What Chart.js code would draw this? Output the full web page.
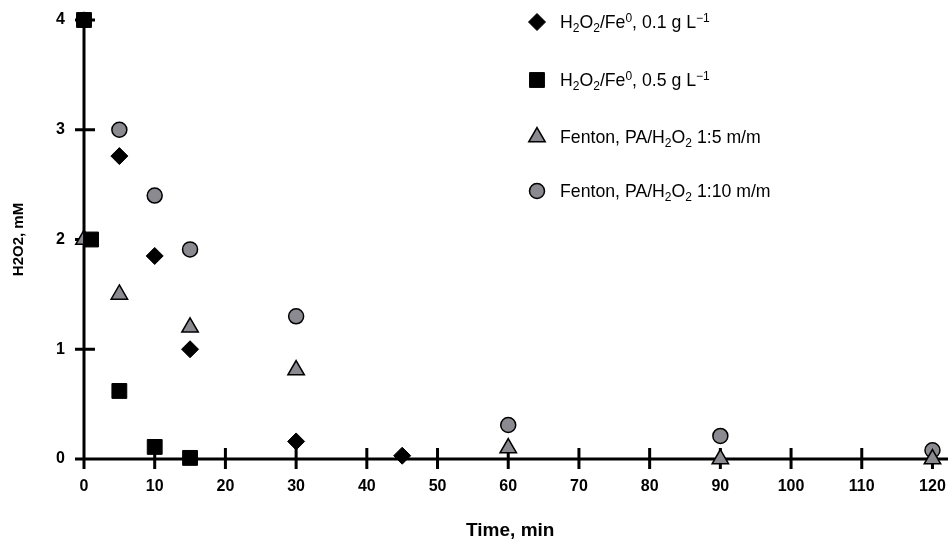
<!DOCTYPE html>
<html lang="en">
<head>
    <meta charset="UTF-8">
    <title>H2O2 decay</title>
    <script src="https://cdn.jsdelivr.net/npm/chart.js@4.4.1/dist/chart.umd.min.js"></script>
    <style>
        html, body { margin: 0; padding: 0; background: #fff; }
        #wrap { width: 948px; height: 542px; }
    </style>
</head>
<body>
<div id="wrap"><canvas id="myChart"></canvas></div>
<script>
    // tick values on both axes
    const xTicks = [0, 10, 20, 30, 40, 50, 60, 70, 80, 90, 100, 110, 120];
    const yTicks = [0, 1, 2, 3, 4];

    // series 1: H2O2/Fe0, 0.1 g/L
    const timeFe01  = [5, 10, 15, 30, 45];
    const valueFe01 = [2.76, 1.85, 1.0, 0.16, 0.03];

    // series 2: H2O2/Fe0, 0.5 g/L
    const timeFe05  = [0, 1, 5, 10, 15];
    const valueFe05 = [4.0, 2.0, 0.62, 0.11, 0.01];

    // series 3: Fenton, PA/H2O2 1:5
    const timeF5  = [0, 5, 15, 30, 60, 90, 120];
    const valueF5 = [2.0, 1.5, 1.2, 0.81, 0.1, 0.0, 0.0];

    // series 4: Fenton, PA/H2O2 1:10
    const timeF10  = [0, 5, 10, 15, 30, 60, 90, 120];
    const valueF10 = [4.0, 3.0, 2.4, 1.91, 1.3, 0.31, 0.21, 0.08];

    // legend labels, split in pieces: [text, 'n' normal | 'sub' | 'sup']
    const legendLabels = [
        [['H', 'n'], ['2', 'sub'], ['O', 'n'], ['2', 'sub'], ['/Fe', 'n'], ['0', 'sup'], [', 0.1 g L', 'n'], ['\u22121', 'sup']],
        [['H', 'n'], ['2', 'sub'], ['O', 'n'], ['2', 'sub'], ['/Fe', 'n'], ['0', 'sup'], [', 0.5 g L', 'n'], ['\u22121', 'sup']],
        [['Fenton, PA/H', 'n'], ['2', 'sub'], ['O', 'n'], ['2', 'sub'], [' 1:5 m/m', 'n']],
        [['Fenton, PA/H', 'n'], ['2', 'sub'], ['O', 'n'], ['2', 'sub'], [' 1:10 m/m', 'n']]
    ];

    const grey = 'rgb(138,138,144)';
    const boldFont = 'Liberation Sans, Arial, sans-serif';

    function toPoints( xs, ys ) {
        return xs.map( (x, i) => ({ x: x, y: ys[i] }) );
    }

    // axis lines and crossing tick marks
    const axesPlugin = {
        id: 'axesPlugin',
        beforeDatasetsDraw(chart) {
            const ctx = chart.ctx;
            const xs = chart.scales.x, ys = chart.scales.y;
            const x0 = xs.getPixelForValue(0);
            const y0 = ys.getPixelForValue(0);
            ctx.save();
            ctx.strokeStyle = '#000';
            ctx.lineWidth = 3;
            ctx.beginPath();
            ctx.moveTo(x0, ys.getPixelForValue(4) - 1);
            ctx.lineTo(x0, y0);
            ctx.moveTo(x0, y0);
            ctx.lineTo(chart.width, y0);
            xTicks.forEach( t => {
                const px = xs.getPixelForValue(t);
                ctx.moveTo(px, y0 - 11);
                ctx.lineTo(px, y0 + 10);
            });
            yTicks.forEach( t => {
                const py = ys.getPixelForValue(t);
                ctx.moveTo(x0 - 9, py);
                ctx.lineTo(x0 + 11, py);
            });
            ctx.stroke();
            ctx.restore();
        }
    };

    // legend with sub/superscripts
    const legendPlugin = {
        id: 'legendPlugin',
        afterDraw(chart) {
            const ctx = chart.ctx;
            const rows = [22, 80, 137, 191];
            ctx.save();
            chart.data.datasets.forEach( (ds, i) => {
                const y = rows[i];
                ctx.fillStyle = ds.pointBackgroundColor;
                ctx.strokeStyle = ds.pointBorderColor;
                ctx.lineWidth = ds.pointBorderWidth;
                Chart.helpers.drawPoint(ctx, {
                    pointStyle: ds.pointStyle,
                    radius: ds.pointRadius,
                    borderWidth: ds.pointBorderWidth
                }, 537, y);
                let x = 560;
                ctx.fillStyle = '#000';
                ctx.textBaseline = 'alphabetic';
                legendLabels[i].forEach( ([txt, kind]) => {
                    let size = 17.7, dy = 6;
                    if ( kind === 'sub' ) { size = 12; dy = 10; }
                    if ( kind === 'sup' ) { size = 12; dy = 0; }
                    ctx.font = size + 'px ' + boldFont;
                    ctx.fillText(txt, x, y + dy);
                    x += ctx.measureText(txt).width;
                });
            });
            ctx.restore();
        }
    };

    const ctx = document.getElementById('myChart').getContext('2d');
    const myChart = new Chart(ctx, {
        type: 'scatter',
        data: {
            datasets: [
                {
                    label: 'H2O2/Fe0, 0.1 g L-1',
                    data: toPoints(timeFe01, valueFe01),
                    pointStyle: 'rectRot',
                    pointRadius: 8.5,
                    pointBackgroundColor: '#000',
                    pointBorderColor: '#000',
                    pointBorderWidth: 1,
                    clip: false
                },
                {
                    label: 'H2O2/Fe0, 0.5 g L-1',
                    data: toPoints(timeFe05, valueFe05),
                    pointStyle: 'rect',
                    pointRadius: 10.5,
                    pointBackgroundColor: '#000',
                    pointBorderColor: '#000',
                    pointBorderWidth: 1,
                    clip: false
                },
                {
                    label: 'Fenton, PA/H2O2 1:5 m/m',
                    data: toPoints(timeF5, valueF5),
                    pointStyle: 'triangle',
                    pointRadius: 9.5,
                    pointBackgroundColor: grey,
                    pointBorderColor: '#000',
                    pointBorderWidth: 1.5,
                    clip: false
                },
                {
                    label: 'Fenton, PA/H2O2 1:10 m/m',
                    data: toPoints(timeF10, valueF10),
                    pointStyle: 'circle',
                    pointRadius: 7.5,
                    pointBackgroundColor: grey,
                    pointBorderColor: '#000',
                    pointBorderWidth: 1.5,
                    clip: false
                }
            ]
        },
        options: {
            responsive: true,
            maintainAspectRatio: false,
            animation: false,
            layout: { padding: { top: 20, right: 0, left: 0, bottom: 0 } },
            plugins: {
                legend: { display: false },
                tooltip: { enabled: false }
            },
            scales: {
                x: {
                    type: 'linear',
                    min: 0,
                    max: 120.57,
                    afterBuildTicks: s => { s.ticks = xTicks.map( v => ({ value: v }) ); },
                    afterFit: s => { s.height = 83; s.paddingLeft = 0; s.paddingRight = 0; },
                    grid: { display: false, drawTicks: false },
                    border: { display: false },
                    ticks: {
                        color: '#000',
                        padding: 18,
                        maxRotation: 0,
                        autoSkip: false,
                        font: { family: boldFont, size: 16, weight: 'bold' }
                    },
                    title: {
                        display: true,
                        text: 'Time, min',
                        color: '#000',
                        padding: { top: 0, bottom: 0 },
                        font: { family: boldFont, size: 19, weight: 'bold' }
                    }
                },
                y: {
                    type: 'linear',
                    min: 0,
                    max: 4,
                    afterBuildTicks: s => { s.ticks = yTicks.map( v => ({ value: v }) ); },
                    afterFit: s => { s.width = 84; s.paddingTop = 0; s.paddingBottom = 0; },
                    grid: { display: false, drawTicks: false },
                    border: { display: false },
                    ticks: {
                        color: '#000',
                        padding: 19,
                        font: { family: boldFont, size: 16, weight: 'bold' }
                    },
                    title: {
                        display: true,
                        text: 'H2O2, mM',
                        color: '#000',
                        padding: { top: 10, bottom: 0 },
                        font: { family: boldFont, size: 15, weight: 'bold' }
                    }
                }
            }
        },
        plugins: [axesPlugin, legendPlugin]
    });
</script>
</body>
</html>
